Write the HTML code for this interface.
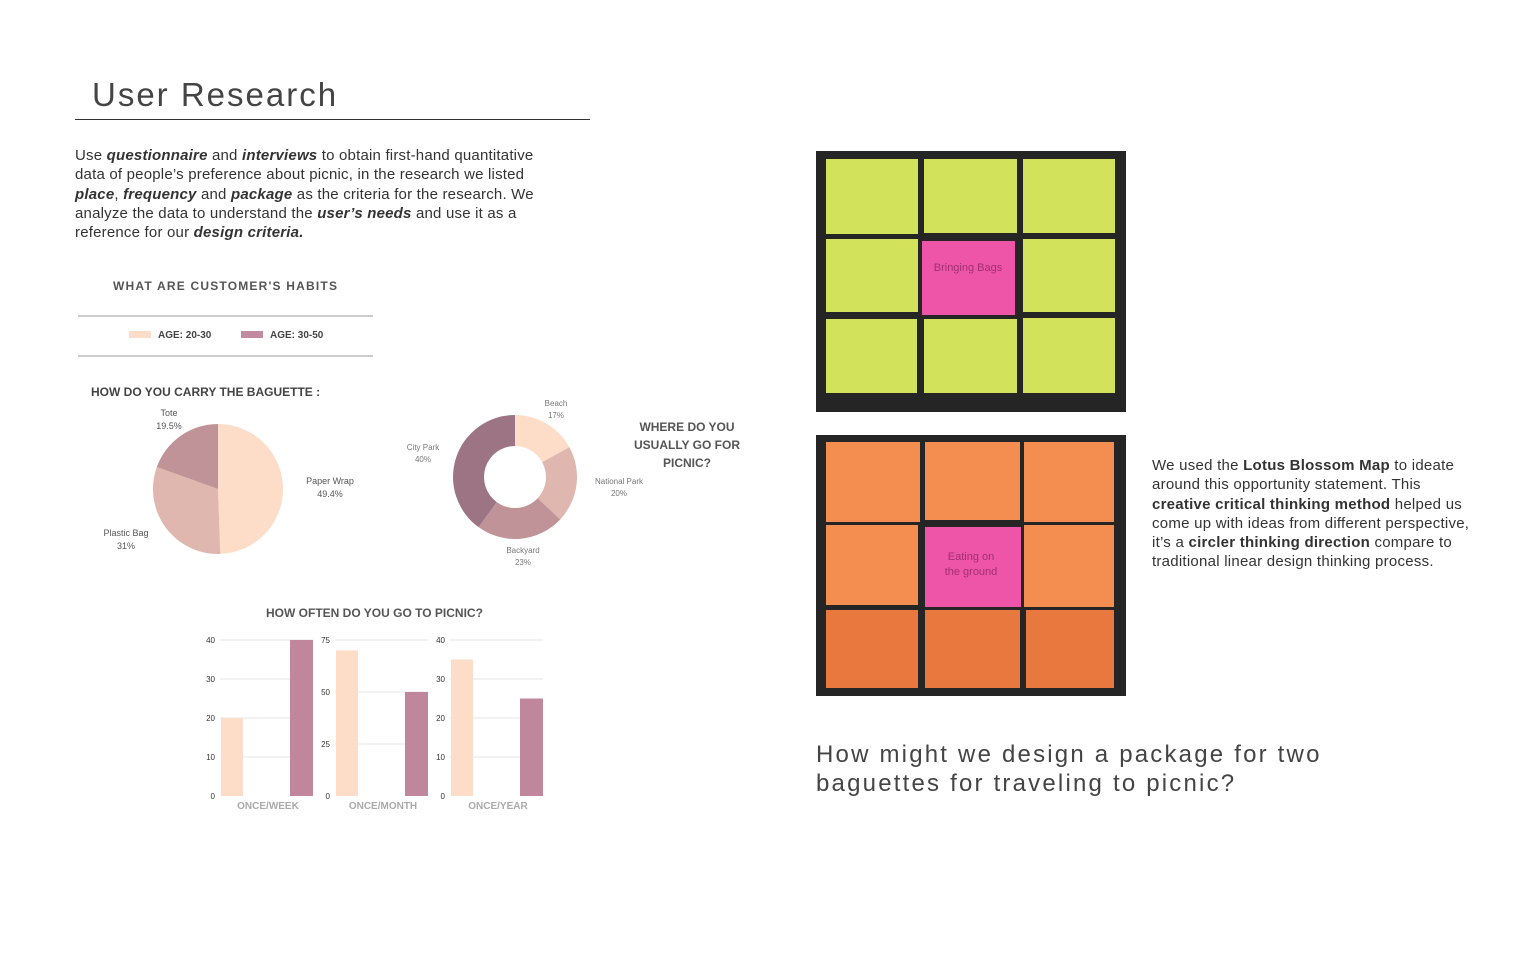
<!DOCTYPE html>
<html><head><meta charset="utf-8"><style>
body{margin:0;width:1536px;height:960px;background:#fff;position:relative;overflow:hidden;font-family:"Liberation Sans",sans-serif;color:#333}
.a{position:absolute}
</style></head><body>
<div class="a" style="left:92px;top:76px;font-size:33px;letter-spacing:2px;color:#444;font-weight:300">User Research</div>
<div class="a" style="left:75px;top:119px;width:515px;height:1px;background:#333"></div>
<div class="a" style="left:75px;top:146px;width:482px;font-size:15px;letter-spacing:0.2px;line-height:19.3px;color:#333">Use <b><i>questionnaire</i></b> and <b><i>interviews</i></b> to obtain first-hand quantitative data of people’s preference about picnic, in the research we listed <b><i>place</i></b>, <b><i>frequency</i></b> and <b><i>package</i></b> as the criteria for the research. We analyze the data to understand the <b><i>user’s needs</i></b> and use it as a reference for our <b><i>design criteria.</i></b></div>
<div class="a" style="left:113px;top:279px;font-size:12px;letter-spacing:1.2px;color:#555;font-weight:bold">WHAT ARE CUSTOMER'S HABITS</div>
<div class="a" style="left:78px;top:315px;width:295px;height:2px;background:#ccc"></div>
<div class="a" style="left:78px;top:355px;width:295px;height:2px;background:#ccc"></div>
<div class="a" style="left:129px;top:330px;font-size:10px;font-weight:bold;color:#444"><span style="display:inline-block;width:22px;height:7px;background:#fddcc8;margin-right:7px"></span>AGE: 20-30</div>
<div class="a" style="left:241px;top:330px;font-size:10px;font-weight:bold;color:#444"><span style="display:inline-block;width:22px;height:7px;background:#c18aa0;margin-right:7px"></span>AGE: 30-50</div>
<div class="a" style="left:91px;top:385px;font-size:12px;font-weight:bold;color:#444">HOW DO YOU CARRY THE BAGUETTE :</div>
<div class="a" style="left:622px;top:418px;width:130px;text-align:center;font-size:12px;font-weight:bold;color:#555;line-height:18px">WHERE DO YOU USUALLY GO FOR PICNIC?</div>
<div class="a" style="left:266px;top:606px;font-size:12px;font-weight:bold;color:#555">HOW OFTEN DO YOU GO TO PICNIC?</div>
<svg id="charts" class="a" style="left:0;top:0" width="1536" height="960"></svg>
<svg class="a" style="left:816px;top:151px" width="310" height="261">
<rect width="310" height="261" fill="#252525"/>
<g fill="#d2e25a"><rect x="10" y="8" width="92" height="75"/><rect x="108" y="8" width="93" height="74"/><rect x="207" y="8" width="92" height="74"/><rect x="10" y="88" width="92" height="73"/><rect x="207" y="88" width="92" height="73"/><rect x="10" y="168" width="91" height="74"/><rect x="108" y="168" width="93" height="74"/><rect x="207" y="167" width="92" height="75"/></g>
<rect x="106" y="90" width="93" height="74" fill="#ee55a8"/>
<text x="152" y="120" font-size="11" fill="#a03070" text-anchor="middle" font-family="Liberation Sans">Bringing Bags</text>
</svg>
<svg class="a" style="left:816px;top:435px" width="310" height="261">
<rect width="310" height="261" fill="#252525"/>
<g fill="#f38e50"><rect x="10" y="7" width="94" height="80"/><rect x="109" y="7" width="95" height="78"/><rect x="208" y="7" width="90" height="80"/><rect x="10" y="90" width="92" height="80"/><rect x="208" y="90" width="90" height="82"/></g>
<g fill="#e8783e"><rect x="10" y="175" width="92" height="78"/><rect x="109" y="175" width="95" height="78"/><rect x="210" y="175" width="88" height="78"/></g>
<rect x="109" y="92" width="96" height="80" fill="#ee55a8"/>
<text x="155" y="125" font-size="11" fill="#a03070" text-anchor="middle" font-family="Liberation Sans">Eating on</text>
<text x="155" y="140" font-size="11" fill="#a03070" text-anchor="middle" font-family="Liberation Sans">the ground</text>
</svg>
<div class="a" style="left:1152px;top:456px;width:318px;font-size:15px;letter-spacing:0.25px;line-height:19.3px;color:#333">We used the <b>Lotus Blossom Map</b> to ideate around this opportunity statement. This <b>creative critical thinking method</b> helped us come up with ideas from different perspective, it’s a <b>circler thinking direction</b> compare to traditional linear design thinking process.</div>
<div class="a" style="left:816px;top:740px;font-size:24px;line-height:29px;letter-spacing:2.2px;color:#444;font-weight:300">How might we design a package for two<br>baguettes for traveling to picnic?</div>
<script>
const pieLabels=['Paper Wrap','Plastic Bag','Tote'];
const pieValues=[49.4,31,19.5];
const donutLabels=['Beach','National Park','Backyard','City Park'];
const donutValues=[17,20,23,40];
const barCategories=['ONCE/WEEK','ONCE/MONTH','ONCE/YEAR'];
const barYoung=[20,70,35];
const barOld=[40,50,25];
const barMax=[40,75,40];
const barTicks=[['0','10','20','30','40'],['0','25','50','75'],['0','10','20','30','40']];
const NS='http://www.w3.org/2000/svg';
const svg=document.getElementById('charts');
function mk(t,a){const e=document.createElementNS(NS,t);for(const k in a)e.setAttribute(k,a[k]);svg.appendChild(e);return e;}
function pt(cx,cy,r,f){const a=f*2*Math.PI;return [cx+r*Math.sin(a),cy-r*Math.cos(a)];}
function arc(cx,cy,r,r0,f0,f1){const [x0,y0]=pt(cx,cy,r,f0),[x1,y1]=pt(cx,cy,r,f1);const l=(f1-f0)>.5?1:0;
 if(!r0)return `M${cx},${cy}L${x0},${y0}A${r},${r} 0 ${l} 1 ${x1},${y1}Z`;
 const [x2,y2]=pt(cx,cy,r0,f1),[x3,y3]=pt(cx,cy,r0,f0);
 return `M${x0},${y0}A${r},${r} 0 ${l} 1 ${x1},${y1}L${x2},${y2}A${r0},${r0} 0 ${l} 0 ${x3},${y3}Z`;}
const pieColors=['#fddcc8','#e0b7ae','#bf9397'];
let tot=pieValues.reduce((a,b)=>a+b,0),acc=0;
const pieLabPos=[[330,484],[126,536],[169,416]];
pieValues.forEach((v,i)=>{const p=mk('path',{d:arc(218,489,65,0,acc/tot,(acc+v)/tot),fill:pieColors[i]});


acc+=v;
const t=mk('text',{x:pieLabPos[i][0],y:pieLabPos[i][1],'font-size':9,fill:'#555','text-anchor':'middle'});


t.innerHTML=`<tspan x="${pieLabPos[i][0]}">${pieLabels[i]}</tspan><tspan x="${pieLabPos[i][0]}" dy="13">${v}%</tspan>`;});
const donutColors=['#fddcc8','#e0b7ae','#bf9397','#9c7484'];
const donutLabPos=[[556,406],[619,484],[523,553],[423,450]];
tot=donutValues.reduce((a,b)=>a+b,0);acc=0;
donutValues.forEach((v,i)=>{const p=mk('path',{d:arc(515,477,62,31,acc/tot,(acc+v)/tot),fill:donutColors[i]});


acc+=v;
const t=mk('text',{x:donutLabPos[i][0],y:donutLabPos[i][1],'font-size':8,fill:'#777','text-anchor':'middle'});


t.innerHTML=`<tspan x="${donutLabPos[i][0]}">${donutLabels[i]}</tspan><tspan x="${donutLabPos[i][0]}" dy="12">${v}%</tspan>`;});
const y0=796,yTop=640;
barCategories.forEach((c,i)=>{const left=220+i*115,right=left+93;
 const ys=v=>y0-(v/barMax[i])*(y0-yTop);
 barTicks[i].forEach(tk=>{const y=ys(+tk);
  if(+tk>0){const g=mk('line',{x1:left,x2:right,y1:y,y2:y,stroke:'#e6e6e6','stroke-width':1});}
  const t=mk('text',{x:left-5,y:y+3,'font-size':8,fill:'#333','text-anchor':'end'});t.textContent=tk;});
 const b1=mk('rect',{x:left+1,y:ys(barYoung[i]),width:22,height:y0-ys(barYoung[i]),fill:'#fddcc8'});
 
 
 const b2=mk('rect',{x:left+70,y:ys(barOld[i]),width:23,height:y0-ys(barOld[i]),fill:'#c0879c'});
 
 
 const t=mk('text',{x:left+48,y:809,'font-size':10,fill:'#aaa','text-anchor':'middle','font-weight':'bold'});
 
 
 t.textContent=c;});
</script>
</body></html>
